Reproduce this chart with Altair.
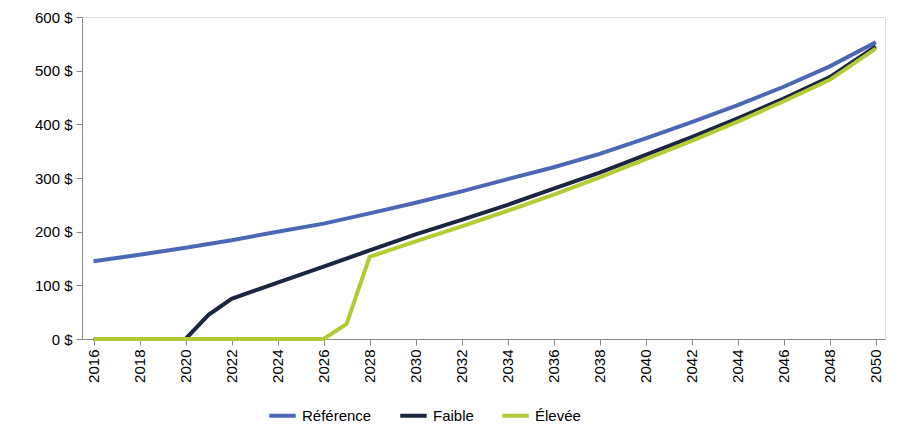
import altair as alt
import pandas as pd

years_ref = [2016, 2018, 2020, 2022, 2024, 2026, 2028, 2030, 2032, 2034, 2036, 2038, 2040, 2042, 2044, 2046, 2048, 2050]
ref = [145, 157, 170, 184, 200, 215, 234, 254, 275, 298, 320, 345, 374, 404, 436, 470, 508, 553]

years_low = [2016, 2020, 2021, 2022, 2024, 2026, 2028, 2030, 2032, 2034, 2036, 2038, 2040, 2042, 2044, 2046, 2048, 2050]
low = [0, 0, 45, 75, 105, 135, 165, 195, 222, 250, 280, 310, 343, 376, 411, 448, 488, 545]

years_high = [2016, 2026, 2027, 2028, 2030, 2032, 2034, 2036, 2038, 2040, 2042, 2044, 2046, 2048, 2050]
high = [0, 0, 28, 153, 182, 210, 239, 269, 301, 335, 369, 405, 443, 483, 541]

series = ["Référence", "Faible", "Élevée"]
colors = ["#4a68b5", "#1b2640", "#b3cb35"]

df = pd.concat([
    pd.DataFrame({"annee": years_ref, "valeur": ref, "serie": "Référence"}),
    pd.DataFrame({"annee": years_low, "valeur": low, "serie": "Faible"}),
    pd.DataFrame({"annee": years_high, "valeur": high, "serie": "Élevée"}),
])

font = "Liberation Sans"

chart = alt.Chart(df).mark_line(strokeWidth=4).encode(
    alt.X("annee:Q", scale=alt.Scale(domain=[2015.5, 2050.4], nice=False, zero=False),
          axis=alt.Axis(values=list(range(2016, 2051, 2)), format="d", labelAngle=-90,
                        grid=False, tickSize=6, labelFontSize=15, labelColor="#000",
                        domainColor="#888", tickColor="#888", labelPadding=4, title=None)),
    alt.Y("valeur:Q", scale=alt.Scale(domain=[0, 600], nice=False),
          axis=alt.Axis(values=[0, 100, 200, 300, 400, 500, 600], labelExpr="datum.value + ' $'",
                        grid=False, tickSize=6, labelFontSize=15, labelColor="#000",
                        domainColor="#888", tickColor="#888", labelPadding=4, title=None)),
    alt.Color("serie:N", scale=alt.Scale(domain=series, range=colors),
              legend=alt.Legend(title=None, orient="none", direction="horizontal",
                                legendX=185, legendY=383, symbolType="stroke",
                                symbolStrokeWidth=4, symbolSize=700, labelFontSize=15,
                                labelColor="#000", columnPadding=20)),
    order="annee:Q",
).properties(
    width=803, height=322,
    autosize=alt.AutoSizeParams(type="none"),
    padding={"left": 74, "top": 9, "right": 11, "bottom": 94},
).configure_view(stroke=None).configure(font=font)

chart.save("out.html", embed_options={"renderer": "svg", "actions": False})
